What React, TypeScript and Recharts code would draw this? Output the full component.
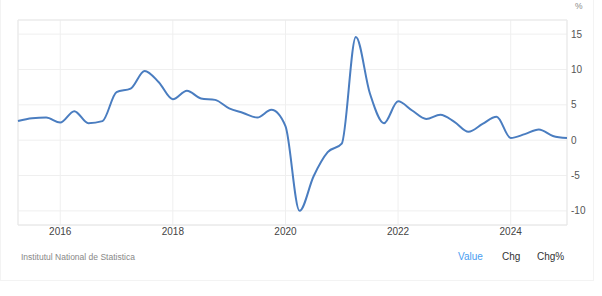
import React from 'react';
import { LineChart, Line, XAxis, YAxis, CartesianGrid, ReferenceLine } from 'recharts';

// quarterly, Q1 2015 .. Q4 2024
const quarters: number[] = Array.from({ length: 40 }, (_, i) => 2015.25 + i * 0.25);

const growth: number[] = [
  2.7, 3.1, 3.2, 2.5,
  4.1, 2.4, 2.7, 6.8,
  7.3, 9.8, 8.2, 5.8,
  7.0, 5.9, 5.7, 4.5,
  3.85, 3.2, 4.3, 2.0,
  -10.0, -5.1, -1.7, -0.5,
  14.6, 6.6, 2.4, 5.5,
  4.2, 3.0, 3.6, 2.6,
  1.2, 2.3, 3.3, 0.3,
  0.85, 1.5, 0.6, 0.3,
];

const yearTicks = [2016, 2018, 2020, 2022, 2024];
const valueTicks = [-10, -5, 0, 5, 10, 15];

const data = quarters.map((q, i) => ({ q, value: growth[i] }));

const FONT = "Arial, 'Liberation Sans', sans-serif";
const GRID = '#efefef';

export default function App() {
  return (
    <div style={{ position: 'absolute', left: 0, top: 0, width: 602, height: 296, background: '#fff', fontFamily: FONT }}>
      <div style={{ position: 'absolute', left: 0, top: 0, width: 592, height: 280, borderLeft: '1px solid #f3f3f3', borderRight: '1px solid #f3f3f3', borderBottom: '1px solid #f3f3f3' }} />
      <LineChart width={602} height={296} data={data} margin={{ top: 20, right: 0, left: 18, bottom: 41 }}>
        <CartesianGrid stroke={GRID} />
        <ReferenceLine x={2015.25} stroke="#e9e9e9" />
        <ReferenceLine x={2025} stroke="#e9e9e9" />
        <ReferenceLine y={17} stroke="#e9e9e9" />
        <ReferenceLine y={-12} stroke="#e6e6e6" />
        <XAxis
          dataKey="q"
          type="number"
          domain={[2015.25, 2025]}
          ticks={yearTicks}
          axisLine={false}
          tickLine={false}
          tickSize={1}
          tickMargin={2}
          height={30}
          tick={{ fill: '#444', fontSize: 10, fontFamily: FONT }}
        />
        <YAxis
          orientation="right"
          domain={[-12, 17]}
          ticks={valueTicks}
          axisLine={false}
          tickLine={false}
          tickSize={2}
          tickMargin={2}
          width={35}
          tick={{ fill: '#555', fontSize: 10, fontFamily: FONT, textAnchor: 'start' }}
        />
        <Line type="monotone" dataKey="value" stroke="#4a7dc0" strokeWidth={2} dot={false} isAnimationActive={false} />
      </LineChart>
      <div style={{ position: 'absolute', left: 575, top: 1, fontSize: 8.5, color: '#888' }}>%</div>
      <div style={{ position: 'absolute', left: 21, top: 252, fontSize: 8.5, color: '#888' }}>Institutul National de Statistica</div>
      <div style={{ position: 'absolute', left: 458, top: 251, fontSize: 10, color: '#4a9df0' }}>Value</div>
      <div style={{ position: 'absolute', left: 502, top: 251, fontSize: 10, color: '#333' }}>Chg</div>
      <div style={{ position: 'absolute', left: 537, top: 251, fontSize: 10, color: '#333' }}>Chg%</div>
    </div>
  );
}
